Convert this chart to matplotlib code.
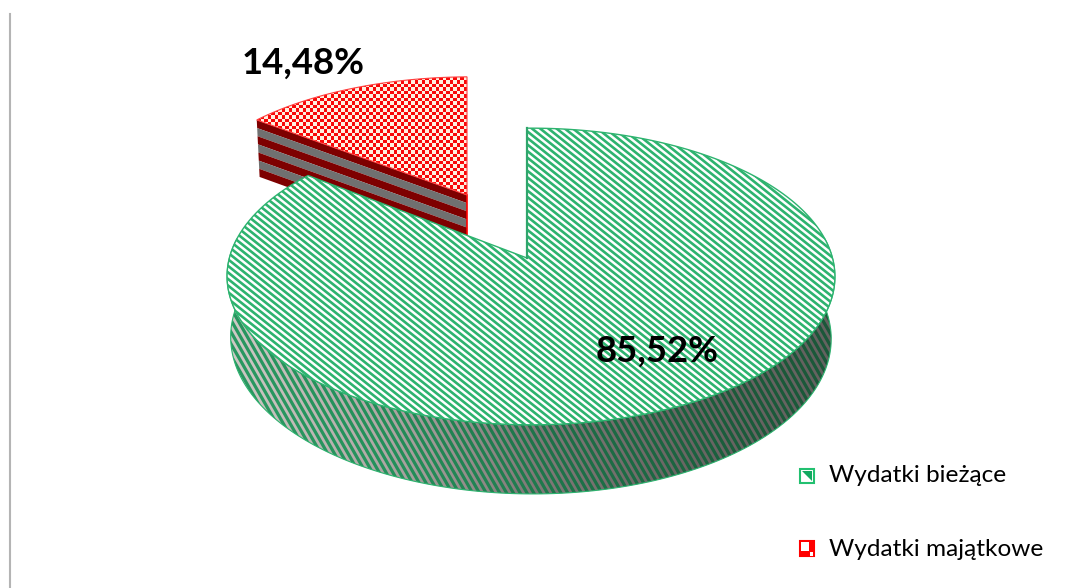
import numpy as np
import matplotlib
matplotlib.use('Agg')
import matplotlib.pyplot as plt
from matplotlib.collections import LineCollection
from matplotlib.colors import LinearSegmentedColormap
from matplotlib.patches import Polygon, Rectangle

categories = ['Wydatki bieżące', 'Wydatki majątkowe']
shares = [85.52, 14.48]
share_labels = ['85,52%', '14,48%']

GREEN = '#2DB36F'
RED = '#FF0000'
DARK_RED = '#7E0000'
WALL_GREY = '#707070'

# perspective of the pie, everything in pixels
R_TILT = 0.1246
T_TILT = -0.013
RAD_X = 301.5
RAD_Y = 146
DEPTH = 60.5

plt.rcParams['font.family'] = ['Lato', 'DejaVu Sans']

fig = plt.figure(figsize=(10.87, 5.88), dpi=100)
ax = fig.add_axes([0, 0, 1, 1])
ax.set_xlim(0, 1087)
ax.set_ylim(588, 0)
ax.axis('off')


def project(theta, cx, cy, sx=1.0, sy=1.0, z=0.0):
    # unit circle -> screen, z goes down through the thickness of the disc
    u = np.cos(np.radians(theta))
    v = np.sin(np.radians(theta))
    d = 1 + R_TILT * v + T_TILT * u
    x = cx + sx * RAD_X * u / d * (1 - 0.012 * z)
    y = cy - sy * RAD_Y * v / d + sy * DEPTH * z / d
    return np.column_stack([x, y])


def stripes(x0, x1, y0, y1, step, slope):
    # diagonal lines going down to the right, cover the box x0-x1, y0-y1
    shift = (y1 - y0) / slope
    starts = np.arange(x0 - shift, x1, step)
    return [[(s, y0), (s + shift, y1)] for s in starts]


# angles from the shares, the small slice starts at 12 o'clock going left
small_end = 90 + 360 * shares[1] / 100
big_end = 90 + 360

# --- pulled out red slice ---
red_c = (467, 195)
red_sx, red_sy = 0.96, 0.91
red_arc = project(np.linspace(90, small_end, 60), *red_c, sx=red_sx, sy=red_sy)
left_pt = red_arc[-1]
apex = np.array(red_c, dtype=float)
drop = 57
n_bands = 7
for i in range(n_bands):
    z0 = drop * i / n_bands
    z1 = drop * (i + 1) / n_bands
    band = [left_pt + [0.05 * z0, z0], apex + [0, z0], apex + [0, z1], left_pt + [0.05 * z1, z1]]
    ax.add_patch(Polygon(band, closed=True, fc=DARK_RED if i % 2 == 0 else WALL_GREY, ec='none', zorder=1))
ax.plot([apex[0], apex[0]], [apex[1], apex[1] + drop], color=RED, lw=1.2, zorder=1.5)

red_top = Polygon(np.vstack([red_c, red_arc]), closed=True, fc='white', ec='none', zorder=2)
ax.add_patch(red_top)
cell = 3.5
rows = int(200 / cell)
cols = int(260 / cell)
ii, jj = np.indices((rows, cols))
checker = (ii + jj) % 2
check_cmap = LinearSegmentedColormap.from_list('check', ['#F80808', '#FFF0E0'])
im = ax.imshow(checker, cmap=check_cmap, extent=(240, 240 + cols * cell, 60 + rows * cell, 60),
               interpolation='antialiased', aspect='auto', zorder=2.1)
im.set_clip_path(red_top)
ax.add_patch(Polygon(np.vstack([red_c, red_arc]), closed=True, fc='none', ec='#FF4040', lw=0.8, zorder=2.2))

# --- side wall of the big slice ---
wall_theta = np.linspace(172, 368, 200)
wall = np.vstack([project(wall_theta, 527, 258), project(wall_theta[::-1], 527, 258, z=1)])
wall_patch = Polygon(wall, closed=True, fc='none', ec='none', zorder=3)
ax.add_patch(wall_patch)
wall_grey = LinearSegmentedColormap.from_list('wall', ['#CFCAC6', '#B0A8A6', '#807A78', '#6A6664', '#646260'])
grad = ax.imshow(np.linspace(0, 1, 300)[None, :], cmap=wall_grey, extent=(225, 840, 500, 260),
                 aspect='auto', zorder=3.1)
grad.set_clip_path(wall_patch)
segs = stripes(225, 840, 260, 500, 6.8, 1.75)
stripe_x = np.array([s[0][0] + 70 for s in segs])
wall_lines = LineCollection(segs, linewidths=2.3, zorder=3.2,
                            cmap=LinearSegmentedColormap.from_list('st', ['#2E9E66', '#24905A', '#1D6F47', '#1B5A3A', '#1B5638']))
wall_lines.set_array((stripe_x - 225) / 615)
ax.add_collection(wall_lines)
wall_lines.set_clip_path(wall_patch)
ax.add_patch(Polygon(wall, closed=True, fc='none', ec=GREEN, lw=0.8, zorder=3.3))

# --- top of the big slice ---
big_arc = project(np.linspace(small_end, big_end, 300), 527, 258)
big_top = Polygon(np.vstack([(527, 258), big_arc]), closed=True, fc='white', ec='none', zorder=4)
ax.add_patch(big_top)
top_lines = LineCollection(stripes(220, 840, 120, 430, 8.2, 0.8), colors=GREEN, linewidths=1.9, zorder=4.1)
ax.add_collection(top_lines)
top_lines.set_clip_path(big_top)
ax.add_patch(Polygon(np.vstack([(527, 258), big_arc]), closed=True, fc='none', ec=GREEN, lw=1.0, zorder=4.2))
ax.plot([527, 527], [258, 128], color='#2FA56C', lw=1.6, zorder=4.3)

# --- labels ---
ax.text(657.5, 351, share_labels[0], fontsize=26.3, fontweight='bold', color='black',
        ha='center', va='center', zorder=6)
ax.text(303.5, 63, share_labels[1], fontsize=26.3, fontweight='bold', color='black',
        ha='center', va='center', zorder=6)

# left rule
ax.plot([9.5, 9.5], [14, 588], color='#B4B4B4', lw=1.5, zorder=1)

# --- legend ---
ax.add_patch(Rectangle((800, 469), 14, 14, fc='white', ec='#22C070', lw=1.5, zorder=5))
ax.add_patch(Polygon([(802, 471), (812, 471), (812, 481)], closed=True, fc='#12A860', ec='none', zorder=5.1))
ax.add_patch(Rectangle((800, 541), 14, 15, fc=RED, ec=RED, lw=1.5, zorder=5))
ax.add_patch(Rectangle((801, 542), 8, 9, fc='white', ec='none', zorder=5.1))
ax.add_patch(Rectangle((809.5, 552), 3.5, 3.5, fc='white', ec='none', zorder=5.1))
ax.text(829, 475, categories[0], fontsize=17.6, color='black', ha='left', va='center', zorder=6)
ax.text(829, 549, categories[1], fontsize=17.6, color='black', ha='left', va='center', zorder=6)

fig.savefig('out.png', dpi=100, facecolor='white')
